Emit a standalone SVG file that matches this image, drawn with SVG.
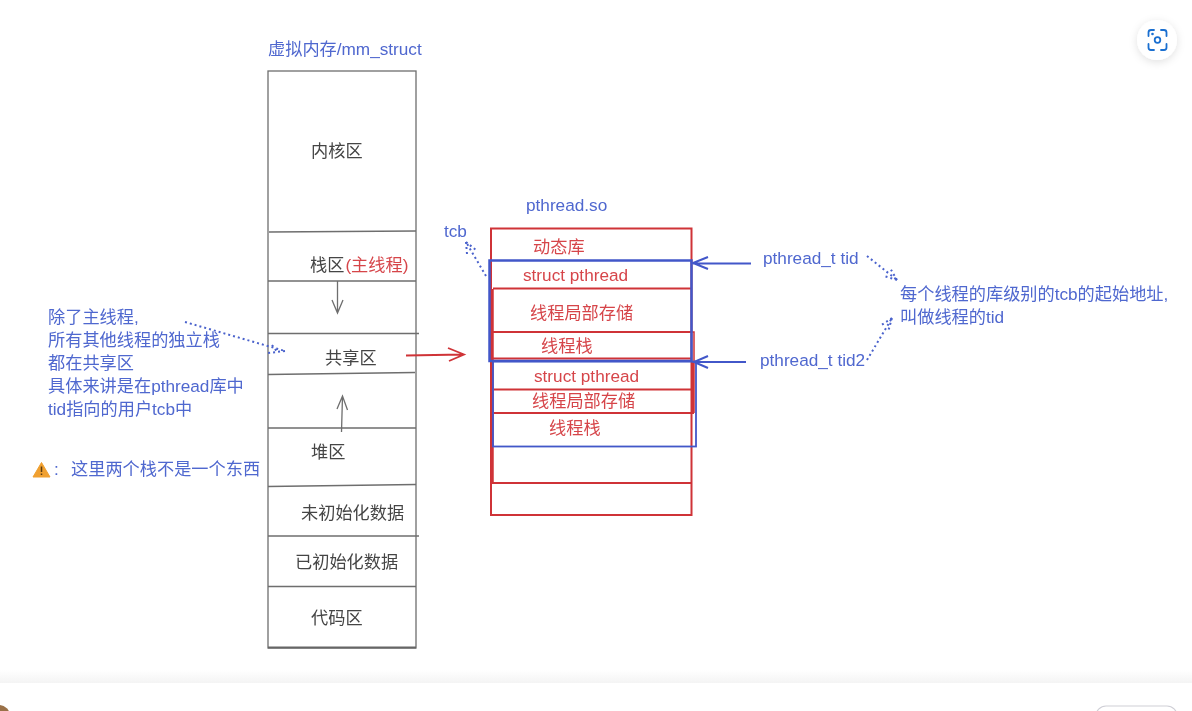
<svg xmlns="http://www.w3.org/2000/svg" width="1192" height="711" viewBox="0 0 1192 711">
<style>
text{font-family:"Liberation Sans","Noto Sans CJK SC",sans-serif;font-size:17.2px;filter:url(#soft)}
.k{fill:#444}.b{fill:#4f67cf}.r{fill:#d6454a}
.g{stroke:#6e6e6e;stroke-width:1.3;fill:none}
.rl{stroke:#cf3337;stroke-width:2;fill:none}
.bl{stroke:#4257c9;stroke-width:2;fill:none}
.d{stroke:#4a62cc;stroke-width:2;fill:none;stroke-dasharray:2 3}
</style>
<defs>
<filter id="soft" x="-5%" y="-20%" width="110%" height="140%"><feGaussianBlur stdDeviation="0.35"/></filter>
<filter id="sh" x="-50%" y="-50%" width="200%" height="200%"><feDropShadow dx="0" dy="2" stdDeviation="4" flood-color="#000" flood-opacity=".12"/></filter>
<linearGradient id="ft" x1="0" y1="0" x2="0" y2="1"><stop offset="0" stop-color="#fff"/><stop offset="1" stop-color="#f4f4f4"/></linearGradient>
</defs>
<rect width="1192" height="711" fill="#fff"/>
<rect x="0" y="670" width="1192" height="13" fill="url(#ft)"/>
<g id="avatar"><circle cx="-1" cy="716" r="11" fill="#9a7148"/></g>
<g id="footer-button"><rect x="1096" y="706" width="81" height="30" rx="10" fill="#fff" stroke="#cfcfd6" stroke-width="1.2"/></g>
<g id="lens-button">
<circle cx="1157" cy="40" r="20" fill="#fff" filter="url(#sh)"/>
<g fill="none" stroke="#1a6fd0" stroke-width="1.8" stroke-linecap="round">
<path d="M1148.500 36v-3.500a2.500 2.500 0 0 1 2.500-2.500h3M1161 30h3a2.500 2.500 0 0 1 2.500 2.500V36M1166.500 44v3.500a2.500 2.500 0 0 1-2.500 2.500h-3M1154 50h-3a2.500 2.500 0 0 1-2.500-2.500V44"/>
<circle cx="1157.500" cy="40" r="2.800"/>
</g>
<circle cx="1152.500" cy="34" r="1.300" fill="#1a6fd0"/>
</g>

<g id="mm-struct">
<text class="b" x="268" y="55">虚拟内存/mm_struct</text>
<rect class="g" x="268" y="71" width="148" height="577"/>
<path d="M268 647.500H416" stroke="#666" stroke-width="2" fill="none"/>
</g>
<g id="kernel"><text class="k" x="311" y="157">内核区</text><path class="g" d="M269 232L416 231"/></g>
<g id="stack"><text class="k" x="310" y="271">栈区<tspan class="r" dx="1">(主线程)</tspan></text><path class="g" d="M268 281H416"/></g>
<g id="shared"><text class="k" x="325" y="364">共享区</text><path class="g" d="M268 333.500H419M268 374.500L415 372.500"/></g>
<g id="heap"><text class="k" x="311" y="458">堆区</text><path class="g" d="M268 428H416M268 486.500L416 484.500"/></g>
<g id="bss"><text class="k" x="301" y="519">未初始化数据</text><path class="g" d="M268 536H419"/></g>
<g id="data"><text class="k" x="295" y="568">已初始化数据</text><path class="g" d="M268 586.500H416"/></g>
<g id="text-seg"><text class="k" x="311" y="624">代码区</text></g>

<g id="pthread-so">
<text class="b" x="526" y="211">pthread.so</text>
<rect class="rl" x="491" y="228.500" width="200.500" height="286.500"/>
<path class="rl" d="M491 483H691.500"/>
<text class="r" x="533" y="253">动态库</text>
</g>
<g id="tcb1">
<path d="M492 289V483" stroke="#cf3337" stroke-width="3.500" fill="none"/>
<path class="rl" d="M493 288.500H691M493 332H691M493 358.500H691"/>
<path d="M691 332H694V361" stroke="#cf3337" stroke-width="1.500" fill="none"/>
<text class="r" x="523" y="281">struct pthread</text>
<text class="r" x="530" y="319">线程局部存储</text>
<text class="r" x="541" y="352">线程栈</text>
</g>
<g id="tcb2">
<path class="rl" d="M494 389.500H691M494 413H694"/>
<path d="M693 362V413" stroke="#cf3337" stroke-width="3.500" fill="none"/>
<text class="r" x="534" y="382">struct pthread</text>
<text class="r" x="532" y="407">线程局部存储</text>
<text class="r" x="549" y="434">线程栈</text>
</g>
<g id="tcb1-outline"><rect x="489.500" y="260.500" width="202" height="100.500" stroke="#4257c9" stroke-width="2.500" fill="none"/></g>
<g id="tcb2-outline"><rect x="493" y="361.500" width="203" height="85" stroke="#4257c9" stroke-width="1.800" fill="none"/></g>

<g id="label-tcb"><text class="b" x="444" y="237">tcb</text></g>
<g id="label-tid"><text class="b" x="763" y="264">pthread_t tid</text></g>
<g id="label-tid2"><text class="b" x="760" y="366">pthread_t tid2</text></g>
<g id="note-tid">
<text class="b" x="900" y="300">每个线程的库级别的tcb的起始地址,</text>
<text class="b" x="900" y="323">叫做线程的tid</text>
</g>
<g id="note-left">
<text class="b" x="48" y="323">除了主线程,</text>
<text class="b" x="48" y="346">所有其他线程的独立栈</text>
<text class="b" x="48" y="369">都在共享区</text>
<text class="b" x="48" y="392">具体来讲是在pthread库中</text>
<text class="b" x="48" y="415">tid指向的用户tcb中</text>
</g>
<g id="warning">
<path d="M41.500 462.500L50 477H33Z" fill="#f0a030" stroke="#f0a030" stroke-linejoin="round"/>
<path d="M41.500 466.500V472M41.500 473.500V475" stroke="#5a3a10" stroke-width="1.500"/>
<text class="b" x="54" y="475">:</text>
<text class="b" x="71" y="475">这里两个栈不是一个东西</text>
</g>

<g id="connectors">
<path class="g" d="M337.500 281V313M332 300L337.500 313L343 300"/>
<path class="g" d="M341.500 432L342.500 396M337 409L342.500 396L347.500 410"/>
<path d="M406 355.500L463 354.500M448 348L464 354.500L449 361" stroke="#cf3337" stroke-width="1.800" fill="none"/>
<path class="bl" d="M751 263.500H693M708 257L693 263L708 269"/>
<path class="bl" d="M746 362H694M708 356L694 362L708 368"/>
<path class="d" d="M185 322L285 351M272 345L278 353M285 351L268 353"/>
<path class="d" d="M486 276L466 242M466 242L467 254M466 242L476 250"/>
<path class="d" d="M867 256L897 280M897 280L884 276M897 280L890 268"/>
<path class="d" d="M867 360L892 318M892 318L880 326M892 318L888 332"/>
</g>
</svg>
